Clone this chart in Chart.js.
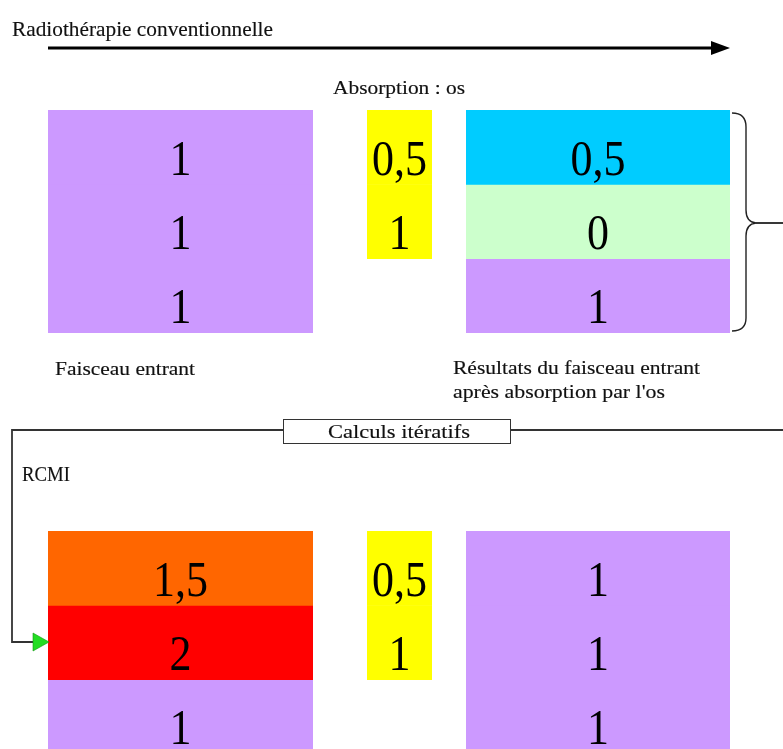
<!DOCTYPE html>
<html>
<head>
<meta charset="utf-8">
<script src="https://cdn.jsdelivr.net/npm/chart.js@4"></script>
<style>
  html, body { margin: 0; padding: 0; background: #fff; }
  #page { position: relative; width: 783px; height: 749px; overflow: hidden; background: #fff; }
  #page canvas { position: absolute; }
  #overlay { position: absolute; left: 0; top: 0; }
  #overlay text { font-family: "Liberation Serif", "Times New Roman", serif; fill: #111; stroke: #111; stroke-width: 0.15; }
</style>
</head>
<body>
<div id="page">
  <canvas id="topIncoming" width="265" height="223" style="left:48px;top:110px"></canvas>
  <canvas id="topAbsorption" width="65" height="149" style="left:367px;top:110px"></canvas>
  <canvas id="topResult" width="264" height="223" style="left:466px;top:110px"></canvas>
  <canvas id="bottomIncoming" width="265" height="223" style="left:48px;top:531px"></canvas>
  <canvas id="bottomAbsorption" width="65" height="149" style="left:367px;top:531px"></canvas>
  <canvas id="bottomResult" width="264" height="223" style="left:466px;top:531px"></canvas>

  <svg id="overlay" width="783" height="749">
    <text x="12" y="36" font-size="21" textLength="261" lengthAdjust="spacingAndGlyphs">Radiothérapie conventionnelle</text>
    <line x1="48" y1="48" x2="714" y2="48" stroke="#000" stroke-width="3"/>
    <polygon points="711,41 730,48 711,55" fill="#000"/>
    <text x="333" y="94" font-size="19" textLength="132" lengthAdjust="spacingAndGlyphs">Absorption : os</text>

    <path d="M732,113 Q746,113 746,127 L746,210 Q746,222 756,223 Q746,224 746,236 L746,318 Q746,331 732,331" fill="none" stroke="#222" stroke-width="1.4"/>
    <line x1="756" y1="223" x2="783" y2="223" stroke="#222" stroke-width="1.8"/>

    <text x="55" y="375" font-size="18" textLength="140" lengthAdjust="spacingAndGlyphs">Faisceau entrant</text>
    <text x="453" y="374" font-size="19" textLength="247" lengthAdjust="spacingAndGlyphs">Résultats du faisceau entrant</text>
    <text x="453" y="398" font-size="19" textLength="212" lengthAdjust="spacingAndGlyphs">après absorption par l'os</text>

    <polyline points="783,430 510,430" fill="none" stroke="#333" stroke-width="1.8"/>
    <polyline points="283,430 12,430 12,642 33,642" fill="none" stroke="#333" stroke-width="1.8"/>
    <rect x="283.5" y="419.5" width="227" height="24" fill="#fff" stroke="#333" stroke-width="1"/>
    <text x="328" y="438" font-size="19" textLength="142" lengthAdjust="spacingAndGlyphs">Calculs itératifs</text>
    <polygon points="33,633 49,642 33,651" fill="#22dd22" stroke="#119911" stroke-width="0.6"/>

    <text x="22" y="481" font-size="22" textLength="48" lengthAdjust="spacingAndGlyphs">RCMI</text>
  </svg>
</div>

<script>
// values per row (top to bottom) for each block
const topIncoming = [1, 1, 1];
const topAbsorption = [0.5, 1];
const topResult = [0.5, 0, 1];
const bottomIncoming = [1.5, 2, 1];
const bottomAbsorption = [0.5, 1];
const bottomResult = [1, 1, 1];

// dose value -> cell colour
const doseColors = { 0: "#CCFFCC", 0.5: "#00CCFF", 1: "#CC99FF", 1.5: "#FF6600", 2: "#FF0000" };
const absorptionColor = "#FFFF00";

const formatValue = (v) => String(v).replace(".", ",");

const cellLabels = {
  id: "cellLabels",
  afterDatasetsDraw(chart) {
    const ctx = chart.ctx;
    ctx.fillStyle = "#000";
    ctx.font = "44px 'Liberation Serif', 'Times New Roman', serif";
    ctx.textAlign = "center";
    ctx.textBaseline = "alphabetic";
    chart.data.datasets.forEach((ds, i) => {
      const bar = chart.getDatasetMeta(i).data[0];
      const top = Math.min(bar.y, bar.base);
      const h = Math.abs(bar.base - bar.y);
      ctx.save();
      ctx.translate(bar.x, top + h * 0.87);
      ctx.scale(1, 1.13); // the digits are drawn a little taller than wide
      ctx.fillText(formatValue(ds.value), 0, 0);
      ctx.restore();
    });
  },
};

function makeBlock(id, values, isAbsorption) {
  const datasets = values.map((v, i) => ({
    label: "row " + (i + 1),
    value: v,
    data: [1],
    backgroundColor: isAbsorption ? absorptionColor : doseColors[v],
    borderWidth: 0,
    barPercentage: 1,
    categoryPercentage: 1,
  }));
  new Chart(document.getElementById(id), {
    type: "bar",
    data: { labels: [""], datasets: datasets },
    options: {
      responsive: false,
      animation: false,
      layout: { padding: 0 },
      scales: {
        x: { display: false, stacked: true },
        y: { display: false, stacked: true, reverse: true, min: 0, max: values.length },
      },
      plugins: { legend: { display: false }, tooltip: { enabled: false } },
    },
    plugins: [cellLabels],
  });
}

makeBlock("topIncoming", topIncoming, false);
makeBlock("topAbsorption", topAbsorption, true);
makeBlock("topResult", topResult, false);
makeBlock("bottomIncoming", bottomIncoming, false);
makeBlock("bottomAbsorption", bottomAbsorption, true);
makeBlock("bottomResult", bottomResult, false);
</script>
</body>
</html>
